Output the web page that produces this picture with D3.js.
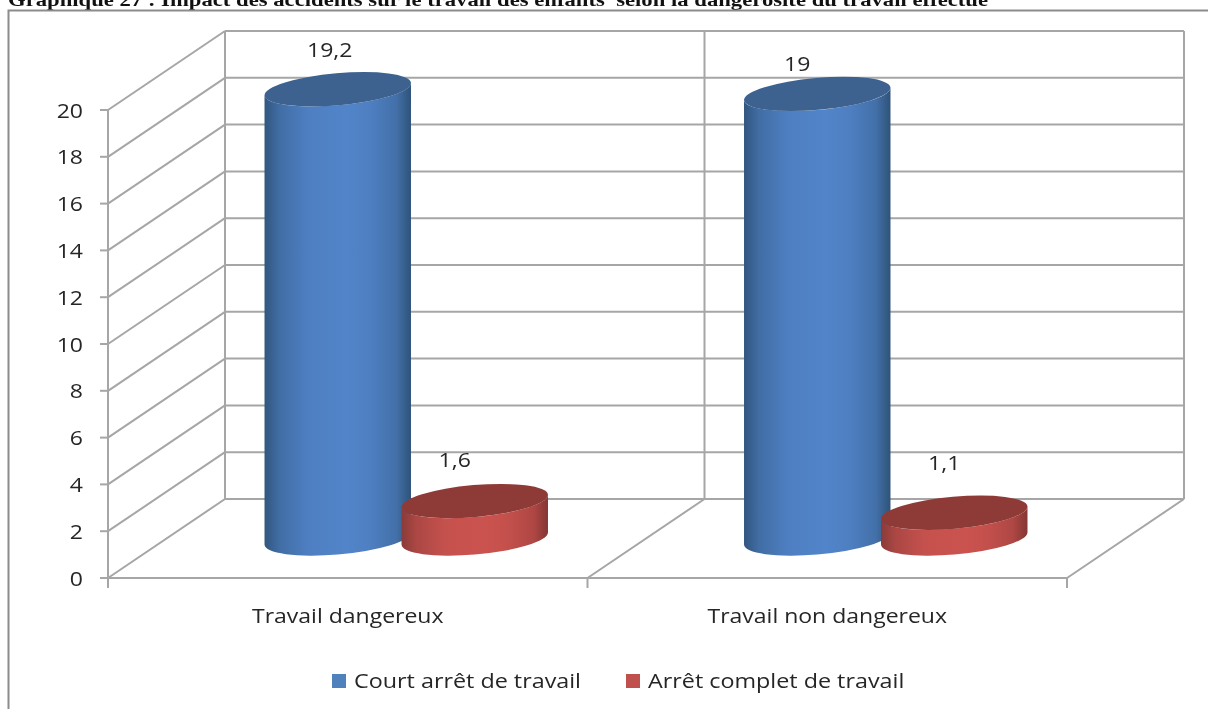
<!DOCTYPE html>
<html><head><meta charset="utf-8">
<script src="https://cdn.jsdelivr.net/npm/d3@7/dist/d3.min.js"></script>
<style>html,body{margin:0;padding:0;background:#fff;overflow:hidden}svg{display:block;filter:blur(0.45px)}</style>
</head><body><svg id="c" width="1208" height="709"></svg>
<script>
const titleText = "Graphique 27 : Impact des accidents sur le travail des enfants  selon la dangerosité du travail effectué";
const categories = ["Travail dangereux", "Travail non dangereux"];
const seriesNames = ["Court arrêt de travail", "Arrêt complet de travail"];
const court = [19.2, 19];
const complet = [1.6, 1.1];
const labelsCourt = ["19,2", "19"];
const labelsComplet = ["1,6", "1,1"];
const ticks = [0,2,4,6,8,10,12,14,16,18,20];

const svg = d3.select("#c");
const font = "'Open Sans', sans-serif";
const grid = "#a6a6a6", txt = "#262626";
const y = d3.scaleLinear().domain([0,20]).range([578,110]);
const x = d3.scaleBand().domain(categories).range([108,1067]);
const inner = d3.scaleBand().domain([0,1]).range([-137,137]);
const dx = 117, dy = -79;
const stretch = 1.15;
function widen(sel, k){
  sel.each(function(){
    this.setAttribute("textLength", this.getComputedTextLength()*(k||stretch));
    this.setAttribute("lengthAdjust","spacingAndGlyphs");
  });
  return sel;
}

const defs = svg.append("defs");
function grad(id, edgeL, mid, edgeR){
  const g = defs.append("linearGradient").attr("id",id).attr("x1","0").attr("x2","1").attr("y1","0").attr("y2","0");
  const mL = d3.interpolateRgb(edgeL,mid), mR = d3.interpolateRgb(edgeR,mid);
  [[0,edgeL],[0.1,mL(0.5)],[0.3,mL(0.9)],[0.56,mid],[0.72,mR(0.9)],[0.9,mR(0.6)],[1,edgeR]]
   .forEach(s=>g.append("stop").attr("offset",s[0]).attr("stop-color",s[1]));
}
grad("gBlue","#31567f","#5184c9","#2f5379");
grad("gRed","#8a3b39","#cb534f","#843634");

const title = svg.append("text").attr("x",8).attr("y",5.5).attr("font-family","'Liberation Serif',serif").attr("font-weight","bold")
  .attr("font-size",18).attr("fill","#111").attr("xml:space","preserve").style("white-space","pre").text(titleText);
title.each(function(){ this.setAttribute("textLength",980); this.setAttribute("lengthAdjust","spacingAndGlyphs"); });

svg.append("path").attr("d","M8.5,709V10.5H1208").attr("fill","none").attr("stroke","#8c8c8c").attr("stroke-width",2);

const gl = svg.append("g").attr("fill","none").attr("stroke",grid).attr("stroke-width",2);
const x0 = x.range()[0], x1 = x.range()[1];
ticks.forEach(t=>{
  gl.append("line").attr("x1",x0+dx).attr("x2",x1+dx).attr("y1",y(t)+dy).attr("y2",y(t)+dy);
  gl.append("line").attr("x1",x0).attr("x2",x0+dx).attr("y1",y(t)).attr("y2",y(t)+dy);
  gl.append("line").attr("x1",x0-8).attr("x2",x0).attr("y1",y(t)).attr("y2",y(t));
});
gl.append("line").attr("x1",x0).attr("x2",x0).attr("y1",y(20)).attr("y2",y(0)+10);
gl.append("line").attr("x1",x0+dx).attr("x2",x0+dx).attr("y1",y(20)+dy).attr("y2",y(0)+dy);
gl.append("line").attr("x1",x0).attr("x2",x1).attr("y1",y(0)).attr("y2",y(0));
categories.map(c=>x(c)+x.bandwidth()).forEach(v=>{
  gl.append("line").attr("x1",v).attr("x2",v+dx).attr("y1",y(0)).attr("y2",y(0)+dy);
  gl.append("line").attr("x1",v).attr("x2",v).attr("y1",y(0)).attr("y2",y(0)+10);
  gl.append("line").attr("x1",v+dx).attr("x2",v+dx).attr("y1",y(20)+dy).attr("y2",y(0)+dy);
});

widen(svg.append("g").selectAll("text").data(ticks).join("text")
  .attr("x",83).attr("y",d=>y(d)+7.5).attr("text-anchor","end").attr("font-family",font).attr("font-size",20).attr("fill",txt).text(d=>d));
widen(svg.append("g").selectAll("text").data(categories).join("text")
  .attr("x",d=>x(d)+x.bandwidth()/2).attr("y",623).attr("text-anchor","middle")
  .attr("font-family",font).attr("font-size",20).attr("fill",txt).text(d=>d));

const a = 73.5, b = 16, rot = -5, th = rot*Math.PI/180;
const tT = Math.atan2(-b*Math.sin(th), a*Math.cos(th));
const ex = a*Math.cos(tT)*Math.cos(th) - b*Math.sin(tT)*Math.sin(th);
const ey = a*Math.cos(tT)*Math.sin(th) + b*Math.sin(tT)*Math.cos(th);
const baseY = y(0)+dy/2;
function cyl(cat, i, v, fill, topFill){
  const cx = x(cat)+x.bandwidth()/2+dx/2+inner(i)+inner.bandwidth()/2;
  const yb = baseY, yt = y(v)+dy/2;
  const g = svg.append("g");
  g.append("path").attr("fill",`url(#${fill})`).attr("d",
    `M${cx-ex},${yt-ey}L${cx-ex},${yb-ey}A${a},${b} ${rot} 0 0 ${cx+ex},${yb+ey}L${cx+ex},${yt+ey}A${a},${b} ${rot} 0 1 ${cx-ex},${yt-ey}Z`);
  g.append("ellipse").attr("cx",0).attr("cy",0).attr("rx",a).attr("ry",b).attr("fill",topFill)
    .attr("transform",`translate(${cx},${yt}) rotate(${rot})`);
  return cx;
}
categories.forEach((c,k)=>{
  const cb = cyl(c,0,court[k],"gBlue","#3d6290");
  const cr = cyl(c,1,complet[k],"gRed","#8e3b38");
  widen(svg.append("text").attr("x",cb-(k?20:8)).attr("y",y(court[k])+dy/2-(k?23:32)).attr("text-anchor","middle").attr("font-family",font).attr("font-size",20).attr("fill",txt).text(labelsCourt[k]));
  widen(svg.append("text").attr("x",cr-(k?10:20)).attr("y",y(complet[k])+dy/2-(k?43:34)).attr("text-anchor","middle").attr("font-family",font).attr("font-size",20).attr("fill",txt).text(labelsComplet[k]));
});

const leg = [[332,354,"#4f81bd"],[626,648,"#c0504d"]];
seriesNames.forEach((n,i)=>{
  svg.append("rect").attr("x",leg[i][0]).attr("y",674).attr("width",14).attr("height",14).attr("fill",leg[i][2]);
  widen(svg.append("text").attr("x",leg[i][1]).attr("y",688).attr("font-family",font).attr("font-size",20).attr("fill",txt).text(n), 1.166);
});
</script></body></html>
